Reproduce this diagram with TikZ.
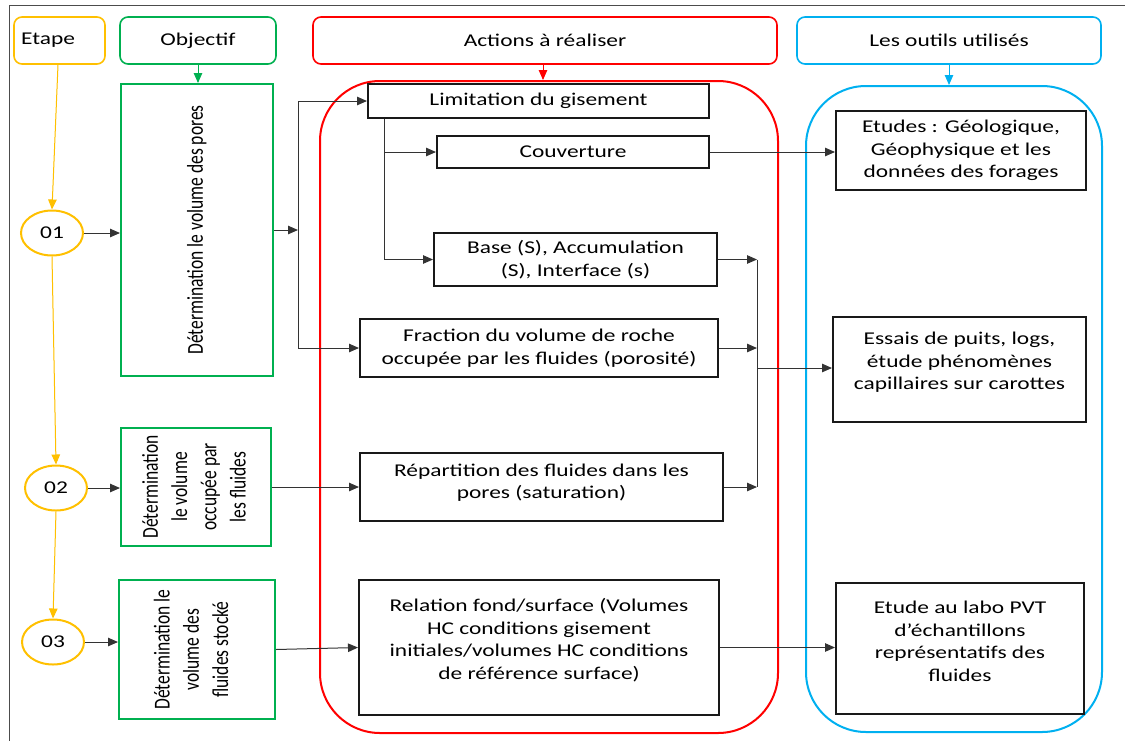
\documentclass[tikz,border=0pt]{standalone}
\usepackage{graphicx}
\usepackage{fontspec}
\setmainfont{Carlito}[FakeStretch=1.3]
\newfontfamily\vfont{Carlito}
\usetikzlibrary{arrows.meta,calc,shapes.geometric}
\definecolor{cY}{HTML}{FFC000}
\definecolor{cG}{HTML}{00B050}
\definecolor{cR}{HTML}{FF0000}
\definecolor{cB}{HTML}{00B0F0}
\newcommand\myhf{\fontsize{18}{22.5}\selectfont}
\newcommand\rottext[1]{\scalebox{1}[1.3]{\vfont\fontsize{17.5}{22.5}\selectfont\begin{tabular}{@{}c@{}}#1\end{tabular}}}
\begin{document}
\begin{tikzpicture}[x=1pt,y=-1pt,
  hdr/.style={draw, rounded corners=8pt, line width=1.6pt, minimum height=47pt, inner sep=0pt, font=\myhf},
  box/.style={draw=black!90, fill=white, line width=2pt, inner sep=0pt, align=center, font=\myhf},
  gbox/.style={draw=cG, fill=white, line width=2pt, inner sep=0pt},
  ell/.style={ellipse, draw=cY, fill=white, line width=2pt, minimum width=62pt, minimum height=45pt, inner sep=0pt, font=\myhf},
  zone/.style={line width=2pt, rounded corners=60pt, inner sep=0pt},
  arr/.style={-{Triangle[length=10pt,width=8.5pt]}, line width=1pt, draw=black!80},
  ln/.style={line width=1pt, draw=black!80},
  yarr/.style={-{Triangle[length=10pt,width=8.5pt]}, line width=1pt, draw=cY, fill=cY},
  txt/.style={align=center, inner sep=0pt, font=\myhf}]
\useasboundingbox (0,0) rectangle (1125,740);
\draw[line width=0.9pt, black!70] (9,742) -- (9,5) -- (1127,5);

% headers
\node[hdr, draw=cY, minimum width=91pt] (hEt) at (59.5,40.5) {};
\node[font=\myhf, inner sep=0pt, anchor=west] (hEtT) at (21,40.5) {Etape};
\node[hdr, draw=cG, minimum width=156pt] (hOb) at (198,40.5) {Objectif};
\node[hdr, draw=cR, minimum width=464pt] (hAc) at (545,40.5) {Actions à réaliser};
\node[hdr, draw=cB, minimum width=304pt] (hOu) at (949,40.5) {Les outils utilisés};

% zones
\node[zone, draw=cR, minimum width=458pt, minimum height=652pt] (azone) at (549,407) {};
\node[zone, draw=cB, minimum width=296pt, minimum height=646pt] (tzone) at (954,409) {};

% steps
\node[ell] (e1) at (52,233) {01};
\node[ell] (e2) at (56,488) {02};
\node[ell] (e3) at (53,642) {03};

% objectives
\node[gbox, minimum width=152pt, minimum height=292pt] (g1) at (197,230) {};
\node[rotate=90, inner sep=0pt] (g1t) at (g1) {\rottext{Détermination le volume des pores}};
\node[gbox, minimum width=150pt, minimum height=118pt] (g2) at (196,487) {};
\node[rotate=90, inner sep=0pt] (g2t) at (g2) {\rottext{Détermination\\le volume\\occupée par\\les fluides}};
\node[gbox, minimum width=156pt, minimum height=139pt] (g3) at (197,649.5) {};
\node[rotate=90, inner sep=0pt] (g3t) at (193,649.5) {\rottext{Détermination le\\volume des\\fluides stocké}};

% actions
\node[box, minimum width=341pt, minimum height=34pt] (lim) at (538.5,101) {Limitation du gisement};
\node[box, minimum width=272pt, minimum height=32pt] (cou) at (573,152) {Couverture};
\node[box, minimum width=283pt, minimum height=53pt] (base) at (575.5,259.5) {Base (S), Accumulation\\(S), Interface (s)};
\node[box, minimum width=358pt, minimum height=58pt] (frac) at (539,348) {Fraction du volume de roche\\occupée par les fluides (porosité)};
\node[box, minimum width=363pt, minimum height=68pt] (rep) at (541.5,487) {};
\node[txt] (rept) at (541.5,482.5) {Répartition des fluides dans les\\pores (saturation)};
\node[box, minimum width=360pt, minimum height=135pt] (rel) at (539,647.5) {};
\node[txt] (relt) at (539,640) {Relation fond/surface (Volumes\\HC conditions gisement\\initiales/volumes HC conditions\\de référence surface)};

% tools
\node[box, minimum width=250pt, minimum height=79pt] (etu) at (961,150.5) {Etudes : Géologique,\\Géophysique et les\\données des forages};
\node[box, minimum width=253pt, minimum height=105pt] (ess) at (959.5,369.5) {};
\node[txt] (esst) at (959.5,362.5) {Essais de puits, logs,\\étude phénomènes\\capillaires sur carottes};
\node[box, minimum width=248pt, minimum height=131pt] (pvt) at (960,648.5) {};
\node[txt] (pvtt) at (960,641.5) {Etude au labo PVT\\d’échantillons\\représentatifs des\\fluides};

% header arrows
\draw[-{Triangle[length=10pt,width=8.5pt]}, line width=1pt, draw=cG, fill=cG] (hOb.south) -- (hOb.south |- g1.north);
\draw[-{Triangle[length=10pt,width=8.5pt]}, line width=1pt, draw=cR, fill=cR] ($(hAc.south)+(-2,0)$) -- ($(hAc.south |- azone.north)+(-2,0)$);
\draw[-{Triangle[length=10pt,width=8.5pt]}, line width=1pt, draw=cB, fill=cB] (hOu.south) -- (hOu.south |- tzone.north);

% step chain
\draw[yarr] ($(hEt.south)+(-1.5,0)$) -- (e1.north);
\draw[yarr] (e1.south) -- (e2.north);
\draw[yarr] (e2.south) -- (e3.north);

% step -> objective
\draw[arr] (e1.east) -- (e1.east -| g1.west);
\draw[arr] (e2.east) -- (e2.east -| g2.west);
\draw[arr] (e3.east) -- (e3.east -| g3.west);

% objective 1 -> actions
\coordinate (j1) at (298,230);
\coordinate (jt) at (298,101);
\coordinate (jb) at (298,348);
\draw[arr] (g1.east) -- (j1);
\draw[ln] (jt) -- (jb);
\draw[arr] (jt) -- (lim.west);
\draw[arr] (jb) -- (frac.west);

% limitation branches
\coordinate (ls) at ($(lim.south west)+(17,0)$);
\draw[arr] (ls) |- (base.west);
\draw[arr] (ls |- cou.west) -- (cou.west);

% objective 2, 3 -> actions
\draw[arr] (g2.east) -- (rep.west);
\draw[arr] (g3.east) -- (rel.west);

% actions -> tools
\draw[arr] (cou.east) -- (cou.east -| etu.west);
\coordinate (vb) at (757,259.5);
\coordinate (vf) at (757,348);
\coordinate (vr) at (757,487);
\coordinate (vm) at (757,368);
\draw[arr] (base.east) -- (vb);
\draw[arr] (frac.east) -- (vf);
\draw[arr] (rep.east) -- (vr);
\draw[ln] (vb) -- (vr);
\draw[arr] (vm) -- (vm -| ess.west);
\draw[arr] (rel.east) -- (rel.east -| pvt.west);
\end{tikzpicture}
\end{document}
